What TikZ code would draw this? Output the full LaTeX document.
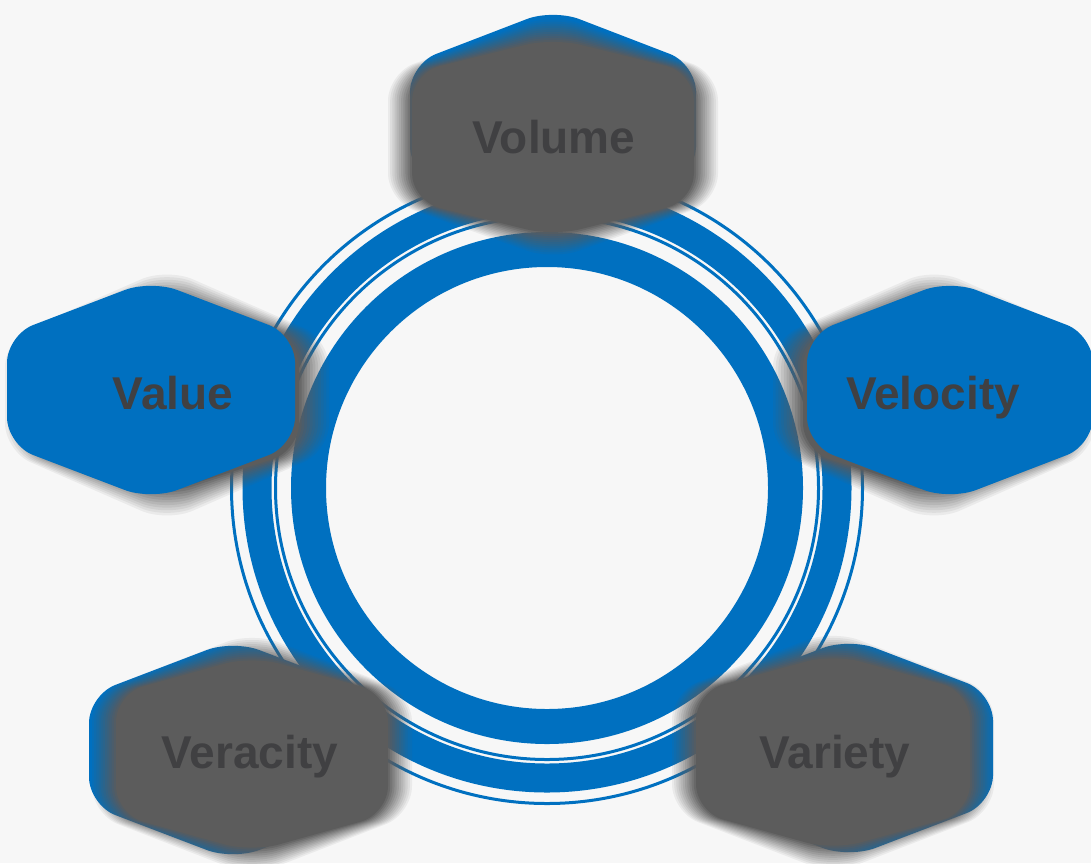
\documentclass[tikz,border=0pt]{standalone}
\usepackage{fontspec}
\setmainfont{Liberation Sans}
\definecolor{bgc}{RGB}{247,247,247}
\definecolor{bluec}{RGB}{0,112,192}
\definecolor{grayc}{RGB}{92,92,92}
\definecolor{txtc}{RGB}{64,64,66}
% hexagon path: #1 cx, #2 cy, #3 half width, #4 half height, #5 outward offset, #6 side-corner offset
\newcommand\hexo[6]{({#1+#3+(#5)},{#2}) -- ({#1+#3+(#5)},{#2+#6}) -- ({#1},{#2+#4+(#5)}) -- ({#1-#3-(#5)},{#2+#6}) -- ({#1-#3-(#5)},{#2-#6}) -- ({#1},{#2-#4-(#5)}) -- ({#1+#3+(#5)},{#2-#6}) -- cycle}
% blurred gray hexagon: #5 blur half width, #6 side-corner offset
\newcommand\blurhex[6]{%
  \foreach \hxk in {1,...,12}{%
    \pgfmathsetmacro\hxd{#5*(13-2*\hxk)/11}%
    \pgfmathsetmacro\hxo{1/(13-\hxk)}%
    \fill[grayc, fill opacity=\hxo, rounded corners=28pt] \hexo{#1}{#2}{#3}{#4}{\hxd}{#6};
  }}
\begin{document}
\begin{tikzpicture}[x=1pt,y=-1pt,
  lbl/.style={anchor=base, inner sep=0pt, text=txtc, font=\fontsize{46}{50}\selectfont\bfseries},
  ring/.style={draw=bluec},
  hexblue/.style={fill=bluec, rounded corners=28pt}]
\fill[bgc] (0,0) rectangle (1091,863);
\useasboundingbox (0,0) rectangle (1091,863);
\clip (0,0) rectangle (1091,863);
\coordinate (c) at (547,488);
% rings
\draw[ring, line width=35pt] (c) circle[radius=238.5];
\draw[ring, line width=3pt] (c) circle[radius=271.5];
\draw[ring, line width=29pt] (c) circle[radius=290];
\draw[ring, line width=3pt] (c) circle[radius=315.5];
% Value
\blurhex{167}{395}{147}{112}{15}{56}
\fill[hexblue] \hexo{151}{390}{144}{110}{0}{55};
\node[lbl] (value) at (173,409) {Value};
% Velocity
\blurhex{934}{395}{146}{112}{15}{56}
\fill[hexblue] \hexo{950}{390}{143}{110}{0}{55};
\node[lbl] (velocity) at (933,409) {Velocity};
% Volume
\fill[hexblue] \hexo{553}{119}{143}{110}{0}{55};
\blurhex{553}{137}{153}{111}{12}{64}
\node[lbl] (volume) at (554,153) {Volume};
% Veracity
\fill[hexblue] \hexo{233}{750}{144}{110}{0}{55};
\blurhex{252}{754}{148}{110}{12}{60}
\node[lbl] (veracity) at (250,768) {Veracity};
% Variety
\fill[hexblue] \hexo{849}{748}{144}{110}{0}{55};
\blurhex{833}{752}{149}{110}{12}{60}
\node[lbl] (variety) at (835,768) {Variety};
\end{tikzpicture}
\end{document}
